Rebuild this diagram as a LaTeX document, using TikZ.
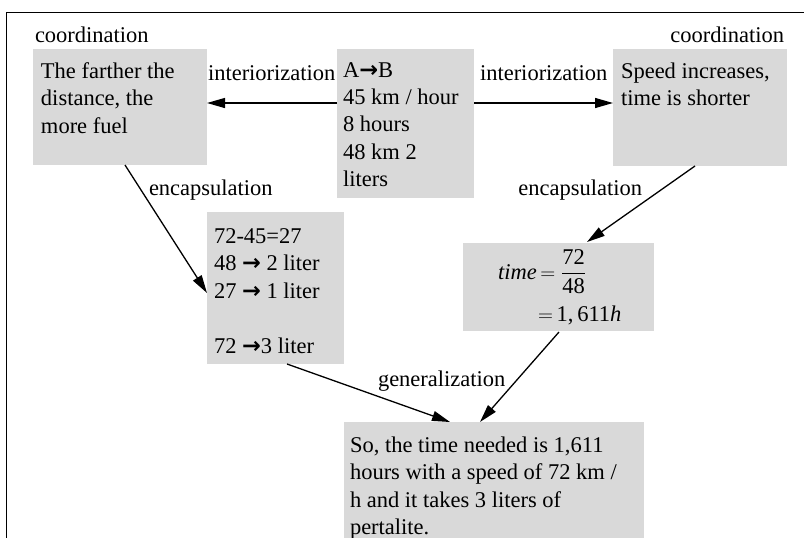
\documentclass[tikz,border=0pt]{standalone}
\usepackage{amsmath}
\usepackage{fontspec}
\setmainfont{Liberation Serif}
\newfontfamily\arrowfont{DejaVu Sans}
\usetikzlibrary{arrows.meta,calc}
\definecolor{boxgray}{HTML}{D9D9D9}
\newcommand{\mlines}[1]{\begin{tabular}[t]{@{}l@{}}#1\end{tabular}}
\newcommand{\rarr}{{\arrowfont\bfseries →}}
\begin{document}
\begin{tikzpicture}[x=1pt,y=-1pt,
  font=\fontsize{22.5}{27.5}\selectfont,
  box/.style={fill=boxgray, draw=none, anchor=north west, inner sep=0pt, outer sep=0pt},
  txt/.style={anchor=base west, inner sep=0pt, outer sep=0pt},
  lbl/.style={anchor=base west, inner sep=0pt, outer sep=0pt},
  arr/.style={line width=1.3pt, -{Triangle[length=18pt,width=10pt]}},
  frame/.style={line width=1.6pt}]
\useasboundingbox (0,0) rectangle (804,538);
% frame
\coordinate (fbl) at (6.5,538);
\coordinate (ftl) at (6.5,12.5);
\coordinate (ftr) at (804,12.5);
\draw[frame] (fbl) -- (ftl) -- (ftr);
% boxes
\node[box, minimum width=174pt, minimum height=116pt] (b1) at (33,49) {};
\node[box, minimum width=137pt, minimum height=149pt] (b2) at (337,49) {};
\node[box, minimum width=174pt, minimum height=117pt] (b3) at (613,49) {};
\node[box, minimum width=137pt, minimum height=152pt] (b4) at (207,212) {};
\node[box, minimum width=191pt, minimum height=88pt] (b5) at (463,243) {};
\node[box, minimum width=300pt, minimum height=120pt] (b6) at (344,422) {};
% box texts
\node[txt] (t1) at (41,78) {\mlines{The farther the\\distance, the\\more fuel}};
\node[txt] (t2) at (343,77) {\mlines{A\rarr B\\45 km / hour\\8 hours\\48 km 2\\liters}};
\node[txt] (t3) at (621,78) {\mlines{Speed increases,\\time is shorter}};
\node[txt] (t4) at (214,243) {\mlines{72-45=27\\48 \rarr{} 2 liter\\27 \rarr{} 1 liter\\ \\72 \rarr 3 liter}};
\node[txt] (t5a) at (498,279) {\textit{time}\,$=\dfrac{\text{72}}{\text{48}}$};
\node[txt] (t5b) at (538,321) {$=$\,1,\,611\textit{h}};
\node[txt] (t6) at (350,452) {\mlines{So, the time needed is 1,611\\hours with a speed of 72 km /\\h and it takes 3 liters of\\pertalite.}};
% labels
\node[lbl] (c1) at (35,42) {coordination};
\node[lbl, anchor=base east] (c2) at (784,42) {coordination};
\node[lbl] (i1) at (208,80) {interiorization};
\node[lbl] (i2) at (480,80) {interiorization};
\node[lbl] (e1) at (149,195) {encapsulation};
\node[lbl, anchor=base east] (e2) at (642,195) {encapsulation};
\node[lbl] (g1) at (378,386) {generalization};
% connectors
\draw[arr] ($(b2.north west)+(0,54)$) -- ($(b1.north east)+(0,54)$);
\draw[arr] ($(b2.north east)+(0,54)$) -- ($(b3.north west)+(0,54)$);
\draw[arr] ($(b1.south west)+(92,0)$) -- ($(b4.north west)+(0,81)$);
\draw[arr] ($(b3.south west)+(82,0)$) -- ($(b5.north west)+(124,-1)$);
\draw[arr] ($(b4.south west)+(80,0)$) -- ($(b6.north west)+(106,0)$);
\draw[arr] ($(b5.south west)+(96,1)$) -- ($(b6.north west)+(136,0)$);
\end{tikzpicture}
\end{document}
